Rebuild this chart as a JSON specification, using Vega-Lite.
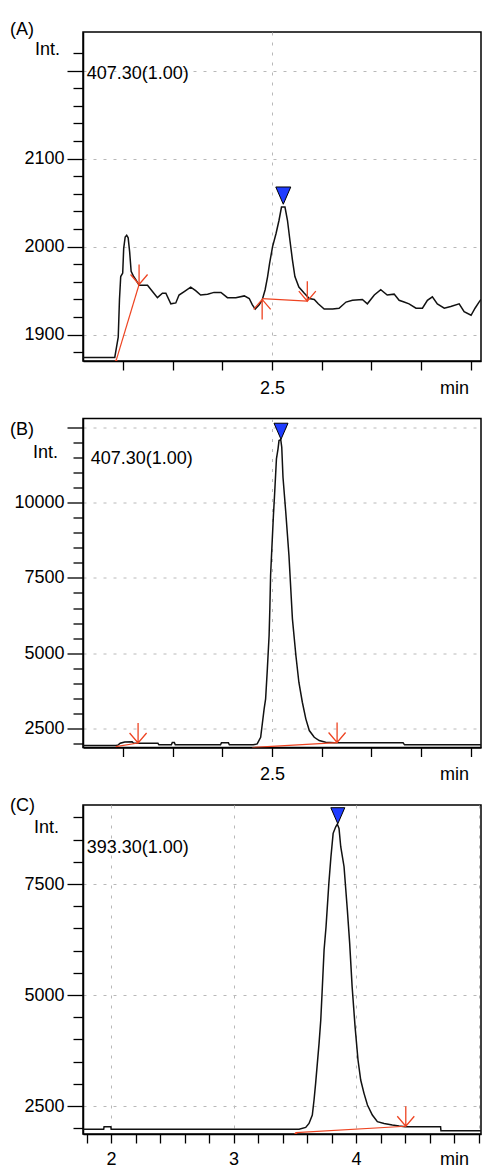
{
  "$schema": "https://vega.github.io/schema/vega-lite/v6.json",
  "autosize": {"type": "pad"},
  "padding": {"left": 9, "top": 20, "right": 0, "bottom": 0},
  "background": "white",
  "bounds": "flush",
  "spacing": 57.5,
  "config": {
    "font": "Liberation Sans",
    "view": {"stroke": "black", "strokeWidth": 1.5},
    "axis": {
      "domainColor": "black", "domainWidth": 1.5,
      "tickColor": "black", "tickWidth": 1.3,
      "labelFont": "Liberation Sans", "labelFontSize": 18, "labelColor": "black",
      "titleFont": "Liberation Sans", "titleFontSize": 18, "titleFontWeight": "normal", "titleColor": "black",
      "gridColor": "#b8b8b8", "gridDash": [3, 7], "gridWidth": 1,
      "labelOverlap": false, "labelFlush": false, "labelBound": false
    },
    "title": {"font": "Liberation Sans", "fontSize": 18, "fontWeight": "normal", "color": "black", "anchor": "start", "frame": "group", "baseline": "alphabetic"}
  },
  "datasets": {
    "A_trace": [
      {"t":2.119,"v":1874},{"t":2.183,"v":1874},{"t":2.186,"v":1884},{"t":2.190,"v":1897},{"t":2.1925,"v":1940},{"t":2.195,"v":1966},{"t":2.199,"v":1970},{"t":2.201,"v":1998},{"t":2.204,"v":2011},{"t":2.207,"v":2013},{"t":2.210,"v":2010},{"t":2.213,"v":1994},{"t":2.216,"v":1972},{"t":2.221,"v":1966},{"t":2.226,"v":1962},{"t":2.232,"v":1956},{"t":2.249,"v":1956},{"t":2.259,"v":1949},{"t":2.269,"v":1942},{"t":2.279,"v":1947},{"t":2.286,"v":1947},{"t":2.296,"v":1935},{"t":2.306,"v":1936},{"t":2.3125,"v":1945},{"t":2.323,"v":1949},{"t":2.336,"v":1954},{"t":2.346,"v":1950},{"t":2.356,"v":1945},{"t":2.370,"v":1946},{"t":2.383,"v":1948},{"t":2.397,"v":1948},{"t":2.410,"v":1942},{"t":2.427,"v":1942},{"t":2.444,"v":1944},{"t":2.454,"v":1941},{"t":2.460,"v":1934},{"t":2.466,"v":1929},{"t":2.474,"v":1934},{"t":2.480,"v":1939},{"t":2.486,"v":1951},{"t":2.491,"v":1966},{"t":2.495,"v":1981},{"t":2.501,"v":2000},{"t":2.508,"v":2015},{"t":2.514,"v":2030},{"t":2.519,"v":2045},{"t":2.526,"v":2045},{"t":2.531,"v":2030},{"t":2.536,"v":2007},{"t":2.541,"v":1985},{"t":2.546,"v":1966},{"t":2.554,"v":1954},{"t":2.565,"v":1947},{"t":2.575,"v":1941},{"t":2.585,"v":1940},{"t":2.593,"v":1935},{"t":2.605,"v":1929},{"t":2.622,"v":1929},{"t":2.635,"v":1930},{"t":2.649,"v":1937},{"t":2.662,"v":1939},{"t":2.682,"v":1940},{"t":2.692,"v":1935},{"t":2.706,"v":1945},{"t":2.719,"v":1951},{"t":2.732,"v":1945},{"t":2.746,"v":1946},{"t":2.756,"v":1939},{"t":2.766,"v":1937},{"t":2.776,"v":1935},{"t":2.790,"v":1930},{"t":2.803,"v":1930},{"t":2.813,"v":1939},{"t":2.823,"v":1943},{"t":2.833,"v":1935},{"t":2.847,"v":1930},{"t":2.860,"v":1932},{"t":2.877,"v":1935},{"t":2.887,"v":1926},{"t":2.901,"v":1922},{"t":2.909,"v":1930},{"t":2.917,"v":1937},{"t":2.921,"v":1940}
    ],
    "A_base": [
      {"seg":1,"t":2.186,"v":1871},{"seg":1,"t":2.232,"v":1957},
      {"seg":2,"t":2.480,"v":1941},{"seg":2,"t":2.571,"v":1938}
    ],
    "A_down": [{"t":2.232,"v":1957},{"t":2.571,"v":1938}],
    "A_up": [{"t":2.186,"v":1871},{"t":2.480,"v":1940}],
    "A_apex": [{"t":2.5226,"v":2058}],
    "A_label": [{"label":"407.30(1.00)","t":2.1264,"v":2191}],
    "B_trace": [
      {"t":2.119,"v":1940},{"t":2.186,"v":1940},{"t":2.190,"v":1958},{"t":2.194,"v":2011},{"t":2.203,"v":2055},{"t":2.218,"v":2060},{"t":2.221,"v":2011},{"t":2.270,"v":2011},{"t":2.272,"v":1958},{"t":2.297,"v":1958},{"t":2.299,"v":2040},{"t":2.303,"v":2040},{"t":2.305,"v":1958},{"t":2.396,"v":1958},{"t":2.398,"v":2025},{"t":2.412,"v":2025},{"t":2.414,"v":1958},{"t":2.462,"v":1958},{"t":2.470,"v":1990},{"t":2.477,"v":2210},{"t":2.484,"v":3153},{"t":2.487,"v":3485},{"t":2.4905,"v":4480},{"t":2.494,"v":5586},{"t":2.4955,"v":6472},{"t":2.497,"v":7577},{"t":2.4995,"v":8463},{"t":2.5027,"v":9569},{"t":2.5053,"v":10342},{"t":2.5088,"v":11450},{"t":2.512,"v":11782},{"t":2.514,"v":12058},{"t":2.5175,"v":12090},{"t":2.5195,"v":11835},{"t":2.522,"v":10840},{"t":2.5276,"v":9678},{"t":2.534,"v":8241},{"t":2.541,"v":6140},{"t":2.548,"v":4922},{"t":2.554,"v":4036},{"t":2.561,"v":3372},{"t":2.568,"v":2821},{"t":2.575,"v":2433},{"t":2.585,"v":2210},{"t":2.595,"v":2100},{"t":2.608,"v":2045},{"t":2.625,"v":2025},{"t":2.764,"v":2025},{"t":2.767,"v":1958},{"t":2.921,"v":1958}
    ],
    "B_base": [
      {"seg":1,"t":2.185,"v":1902},{"seg":1,"t":2.230,"v":2020},
      {"seg":2,"t":2.460,"v":1869},{"seg":2,"t":2.631,"v":2035}
    ],
    "B_down": [{"t":2.230,"v":2020},{"t":2.631,"v":2035}],
    "B_apex": [{"t":2.518,"v":12366}],
    "B_label": [{"label":"407.30(1.00)","t":2.1345,"v":11278}],
    "C_trace": [
      {"t":1.771,"v":1975},{"t":1.940,"v":1975},{"t":1.943,"v":2034},{"t":1.998,"v":2034},{"t":2.001,"v":1975},{"t":3.535,"v":1975},{"t":3.589,"v":2018},{"t":3.616,"v":2108},{"t":3.643,"v":2297},{"t":3.657,"v":2635},{"t":3.670,"v":3011},{"t":3.684,"v":3462},{"t":3.698,"v":3912},{"t":3.712,"v":4437},{"t":3.725,"v":5187},{"t":3.739,"v":6014},{"t":3.755,"v":6538},{"t":3.778,"v":7515},{"t":3.795,"v":8115},{"t":3.813,"v":8642},{"t":3.834,"v":8790},{"t":3.847,"v":8850},{"t":3.861,"v":8754},{"t":3.875,"v":8340},{"t":3.902,"v":7890},{"t":3.929,"v":6914},{"t":3.948,"v":6164},{"t":3.968,"v":5187},{"t":3.992,"v":4286},{"t":4.016,"v":3536},{"t":4.038,"v":3086},{"t":4.065,"v":2785},{"t":4.093,"v":2522},{"t":4.133,"v":2297},{"t":4.174,"v":2147},{"t":4.229,"v":2108},{"t":4.296,"v":2072},{"t":4.351,"v":2050},{"t":4.400,"v":2034},{"t":4.690,"v":2034},{"t":4.693,"v":1944},{"t":5.02,"v":1944}
    ],
    "C_base": [{"seg":1,"t":3.508,"v":1899},{"seg":1,"t":4.406,"v":2045}],
    "C_down": [{"t":4.406,"v":2045}],
    "C_up": [{"t":3.508,"v":1895}],
    "C_apex": [{"t":3.851,"v":9038}],
    "C_label": [{"label":"393.30(1.00)","t":1.8016,"v":8198}]
  },
  "vconcat": [
    {
      "width": 398, "height": 329,
      "title": {"text": "(A)", "dx": -73, "offset": -7},
      "layer": [
        {
          "data": {"name": "A_trace"},
          "mark": {"type": "line", "color": "#111111", "strokeWidth": 1.5, "clip": true},
          "encoding": {
            "x": {"field": "t", "type": "quantitative",
              "scale": {"domain": [2.119, 2.921], "nice": false, "zero": false},
              "axis": {"values": [2.2,2.3,2.4,2.5,2.6,2.7,2.8,2.9], "tickCount": 200, "labelExpr": "datum.value == 2.5 ? '2.5' : ''", "tickSize": 9, "labelPadding": 9,
                "grid": true, "gridOpacity": {"condition": {"test": "datum.value == 2.5", "value": 1}, "value": 0},
                "title": "min", "titleX": 371, "titleY": 18, "titleAlign": "center", "titleBaseline": "top"}},
            "y": {"field": "v", "type": "quantitative",
              "scale": {"domain": [1870, 2244], "nice": false, "zero": false},
              "axis": {"values": [1880,1900,1920,1940,1960,1980,2000,2020,2040,2060,2080,2100,2120,2140,2160,2180,2200,2220], "tickCount": 200,
                "labelExpr": "(datum.value % 100 == 0 && datum.value <= 2100) ? '' + datum.value : ''",
                "tickSize": {"condition": {"test": "datum.value % 100 == 0", "value": 16}, "value": 10}, "labelPadding": 3,
                "grid": true, "gridOpacity": {"condition": {"test": "datum.value % 100 == 0", "value": 1}, "value": 0},
                "title": "Int.", "titleAngle": 0, "titleX": -36, "titleY": 17, "titleAlign": "center", "titleBaseline": "middle"}}
          }
        },
        {
          "data": {"name": "A_base"},
          "mark": {"type": "line", "color": "#ee4422", "strokeWidth": 1.2, "clip": true},
          "encoding": {"x": {"field": "t", "type": "quantitative"}, "y": {"field": "v", "type": "quantitative"}, "detail": {"field": "seg", "type": "nominal"}}
        },
        {
          "data": {"name": "A_down"},
          "mark": {"type": "point", "shape": "M0,0L0,-2M-0.85,-1L0,0L0.85,-1", "size": 400, "filled": false, "color": "#ee4422", "strokeWidth": 1.3, "opacity": 1, "clip": true},
          "encoding": {"x": {"field": "t", "type": "quantitative"}, "y": {"field": "v", "type": "quantitative"}}
        },
        {
          "data": {"name": "A_up"},
          "mark": {"type": "point", "shape": "M0,0L0,2M-0.85,1L0,0L0.85,1", "size": 400, "filled": false, "color": "#ee4422", "strokeWidth": 1.3, "opacity": 1, "clip": true},
          "encoding": {"x": {"field": "t", "type": "quantitative"}, "y": {"field": "v", "type": "quantitative"}}
        },
        {
          "data": {"name": "A_apex"},
          "mark": {"type": "point", "shape": "M-1,-1.15L1,-1.15L0,1.15Z", "size": 225, "filled": true, "color": "#1f3cff", "stroke": "black", "strokeWidth": 1, "opacity": 1},
          "encoding": {"x": {"field": "t", "type": "quantitative"}, "y": {"field": "v", "type": "quantitative"}}
        },
        {
          "data": {"name": "A_label"},
          "mark": {"type": "text", "align": "left", "baseline": "alphabetic", "fontSize": 18, "font": "Liberation Sans", "color": "black"},
          "encoding": {"x": {"field": "t", "type": "quantitative"}, "y": {"field": "v", "type": "quantitative"}, "text": {"field": "label"}}
        }
      ]
    },
    {
      "width": 398, "height": 329,
      "title": {"text": "(B)", "dx": -73, "offset": -21},
      "layer": [
        {
          "data": {"name": "B_trace"},
          "mark": {"type": "line", "color": "#111111", "strokeWidth": 1.5, "clip": true},
          "encoding": {
            "x": {"field": "t", "type": "quantitative",
              "scale": {"domain": [2.119, 2.921], "nice": false, "zero": false},
              "axis": {"values": [2.2,2.3,2.4,2.5,2.6,2.7,2.8,2.9], "tickCount": 200, "labelExpr": "datum.value == 2.5 ? '2.5' : ''", "tickSize": 9, "labelPadding": 9,
                "grid": true, "gridOpacity": {"condition": {"test": "datum.value == 2.5", "value": 1}, "value": 0},
                "title": "min", "titleX": 371, "titleY": 18, "titleAlign": "center", "titleBaseline": "top"}},
            "y": {"field": "v", "type": "quantitative",
              "scale": {"domain": [1870, 12790], "nice": false, "zero": false},
              "axis": {"values": [2000,2500,3000,3500,4000,4500,5000,5500,6000,6500,7000,7500,8000,8500,9000,9500,10000,10500,11000,11500,12000,12500], "tickCount": 200,
                "labelExpr": "(datum.value % 2500 == 0 && datum.value <= 10000) ? '' + datum.value : ''",
                "tickSize": {"condition": {"test": "datum.value % 2500 == 0", "value": 16}, "value": 10}, "labelPadding": 3,
                "grid": true, "gridOpacity": {"condition": {"test": "datum.value % 2500 == 0", "value": 1}, "value": 0},
                "title": "Int.", "titleAngle": 0, "titleX": -38, "titleY": 34, "titleAlign": "center", "titleBaseline": "middle"}}
          }
        },
        {
          "data": {"name": "B_base"},
          "mark": {"type": "line", "color": "#ee4422", "strokeWidth": 1.2, "clip": true},
          "encoding": {"x": {"field": "t", "type": "quantitative"}, "y": {"field": "v", "type": "quantitative"}, "detail": {"field": "seg", "type": "nominal"}}
        },
        {
          "data": {"name": "B_down"},
          "mark": {"type": "point", "shape": "M0,0L0,-2M-0.85,-1L0,0L0.85,-1", "size": 400, "filled": false, "color": "#ee4422", "strokeWidth": 1.3, "opacity": 1, "clip": true},
          "encoding": {"x": {"field": "t", "type": "quantitative"}, "y": {"field": "v", "type": "quantitative"}}
        },
        {
          "data": {"name": "B_apex"},
          "mark": {"type": "point", "shape": "M-1,-1.15L1,-1.15L0,1.15Z", "size": 196, "filled": true, "color": "#1f3cff", "stroke": "black", "strokeWidth": 1, "opacity": 1},
          "encoding": {"x": {"field": "t", "type": "quantitative"}, "y": {"field": "v", "type": "quantitative"}}
        },
        {
          "data": {"name": "B_label"},
          "mark": {"type": "text", "align": "left", "baseline": "alphabetic", "fontSize": 18, "font": "Liberation Sans", "color": "black"},
          "encoding": {"x": {"field": "t", "type": "quantitative"}, "y": {"field": "v", "type": "quantitative"}, "text": {"field": "label"}}
        }
      ]
    },
    {
      "width": 398, "height": 329,
      "title": {"text": "(C)", "dx": -73, "offset": -10},
      "layer": [
        {
          "data": {"name": "C_trace"},
          "mark": {"type": "line", "color": "#111111", "strokeWidth": 1.5, "clip": true},
          "encoding": {
            "x": {"field": "t", "type": "quantitative",
              "scale": {"domain": [1.771, 5.02], "nice": false, "zero": false},
              "axis": {"values": [1.8,2,2.2,2.4,2.6,2.8,3,3.2,3.4,3.6,3.8,4,4.2,4.4,4.6,4.8,5], "tickCount": 200,
                "labelExpr": "datum.value == 2 ? '2' : datum.value == 3 ? '3' : datum.value == 4 ? '4' : ''", "tickSize": 9, "labelPadding": 7,
                "grid": true, "gridOpacity": {"condition": {"test": "datum.value == 2 || datum.value == 3 || datum.value == 4 || datum.value == 5", "value": 1}, "value": 0},
                "title": "min", "titleX": 371, "titleY": 16, "titleAlign": "center", "titleBaseline": "top"}},
            "y": {"field": "v", "type": "quantitative",
              "scale": {"domain": [1870, 9280], "nice": false, "zero": false},
              "axis": {"values": [2000,2500,3000,3500,4000,4500,5000,5500,6000,6500,7000,7500,8000,8500,9000], "tickCount": 200,
                "labelExpr": "(datum.value % 2500 == 0) ? '' + datum.value : ''",
                "tickSize": {"condition": {"test": "datum.value % 2500 == 0", "value": 16}, "value": 10}, "labelPadding": 3,
                "grid": true, "gridOpacity": {"condition": {"test": "datum.value % 2500 == 0", "value": 1}, "value": 0},
                "title": "Int.", "titleAngle": 0, "titleX": -37, "titleY": 22, "titleAlign": "center", "titleBaseline": "middle"}}
          }
        },
        {
          "data": {"name": "C_base"},
          "mark": {"type": "line", "color": "#ee4422", "strokeWidth": 1.2, "clip": true},
          "encoding": {"x": {"field": "t", "type": "quantitative"}, "y": {"field": "v", "type": "quantitative"}, "detail": {"field": "seg", "type": "nominal"}}
        },
        {
          "data": {"name": "C_down"},
          "mark": {"type": "point", "shape": "M0,0L0,-2M-0.85,-1L0,0L0.85,-1", "size": 400, "filled": false, "color": "#ee4422", "strokeWidth": 1.3, "opacity": 1, "clip": true},
          "encoding": {"x": {"field": "t", "type": "quantitative"}, "y": {"field": "v", "type": "quantitative"}}
        },
        {
          "data": {"name": "C_up"},
          "mark": {"type": "point", "shape": "M0,0L0,2M-0.85,1L0,0L0.85,1", "size": 400, "filled": false, "color": "#ee4422", "strokeWidth": 1.3, "opacity": 1, "clip": true},
          "encoding": {"x": {"field": "t", "type": "quantitative"}, "y": {"field": "v", "type": "quantitative"}}
        },
        {
          "data": {"name": "C_apex"},
          "mark": {"type": "point", "shape": "M-1,-1.15L1,-1.15L0,1.15Z", "size": 196, "filled": true, "color": "#1f3cff", "stroke": "black", "strokeWidth": 1, "opacity": 1},
          "encoding": {"x": {"field": "t", "type": "quantitative"}, "y": {"field": "v", "type": "quantitative"}}
        },
        {
          "data": {"name": "C_label"},
          "mark": {"type": "text", "align": "left", "baseline": "alphabetic", "fontSize": 18, "font": "Liberation Sans", "color": "black"},
          "encoding": {"x": {"field": "t", "type": "quantitative"}, "y": {"field": "v", "type": "quantitative"}, "text": {"field": "label"}}
        }
      ]
    }
  ]
}
